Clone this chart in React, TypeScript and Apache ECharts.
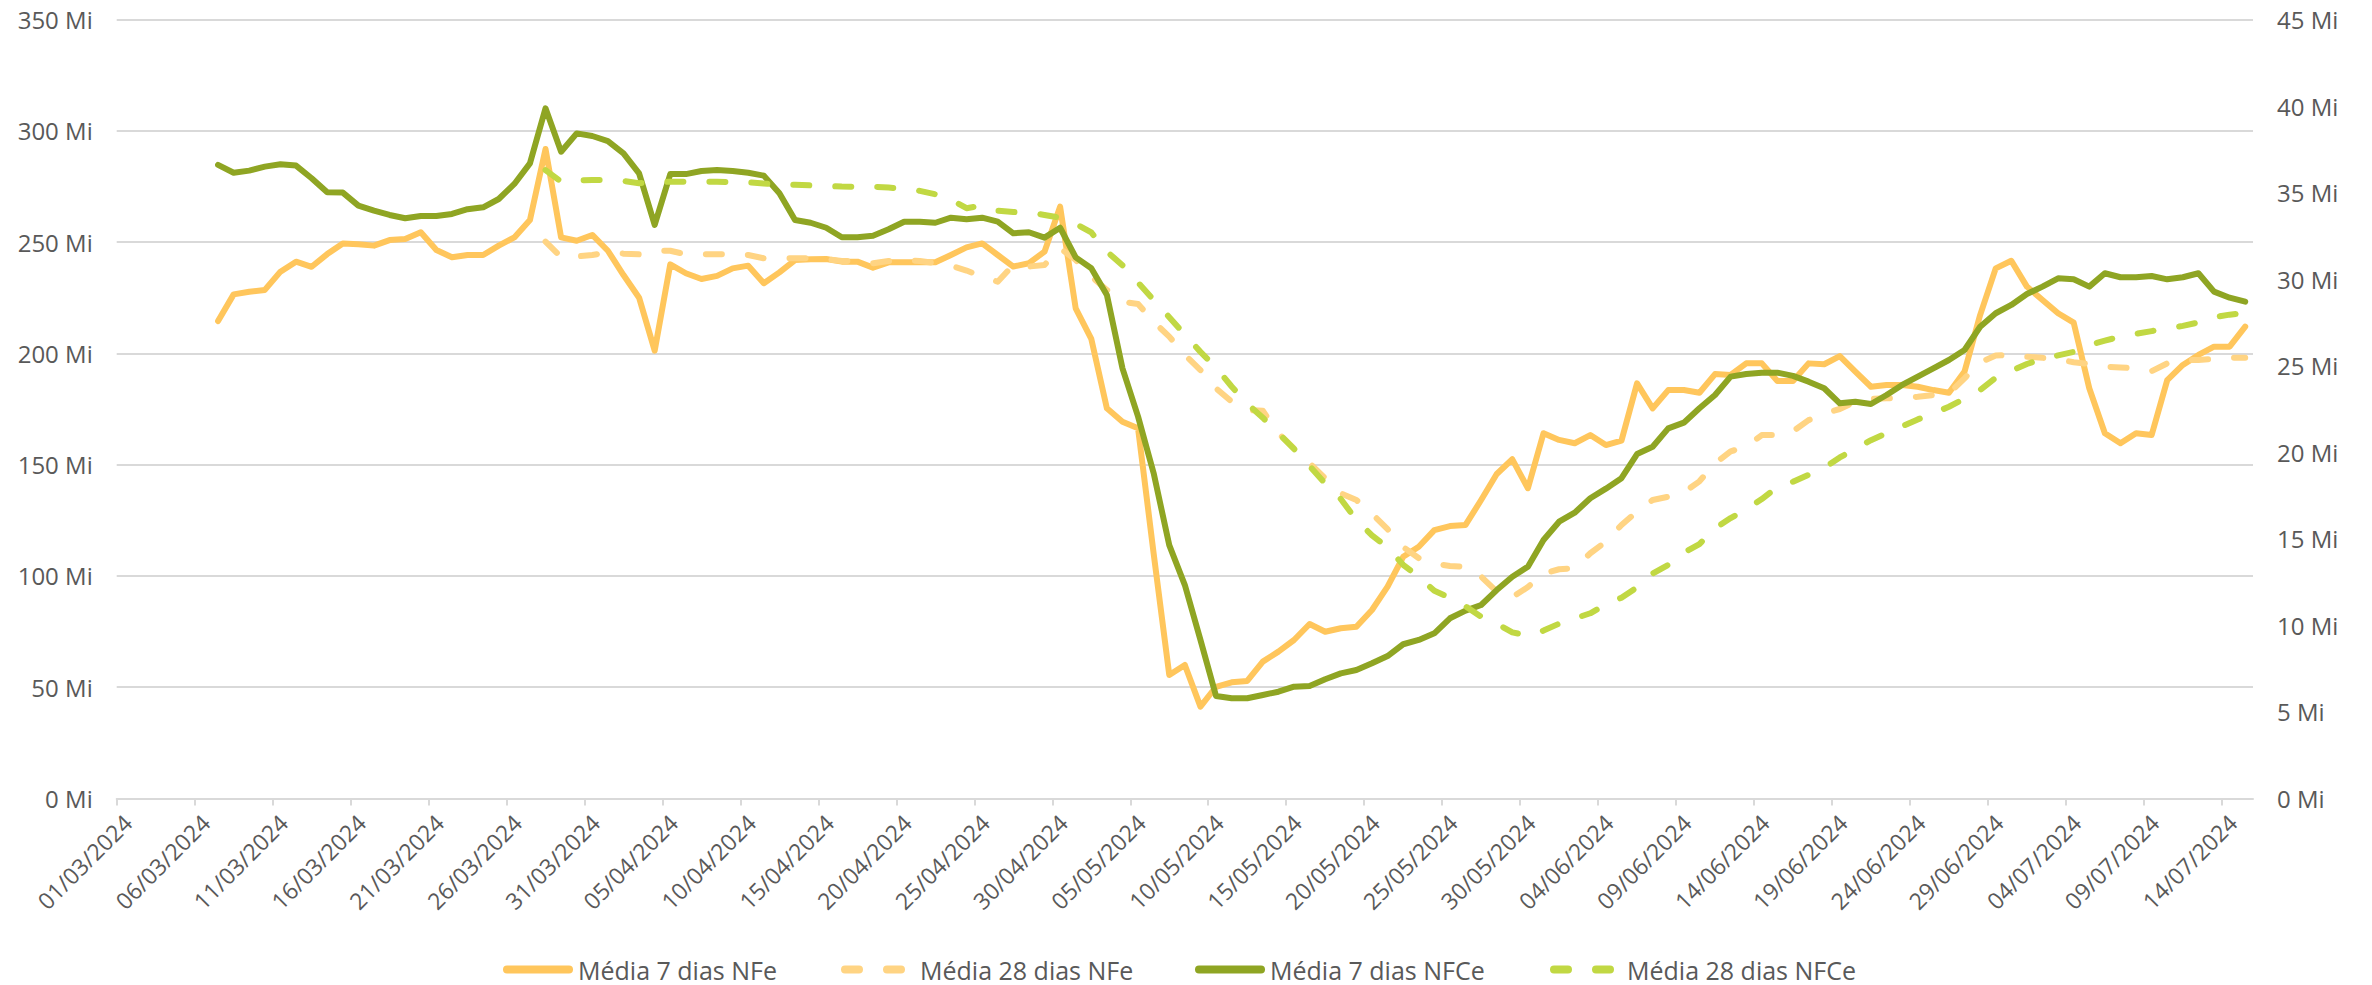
import React, { useEffect, useRef } from 'react';
import * as echarts from 'echarts';

// Tick labels (every 5 days) for the date axis: 01/03/2024 .. 15/07/2024 (137 days)
const tickLabels = [
  '01/03/2024', '06/03/2024', '11/03/2024', '16/03/2024', '21/03/2024', '26/03/2024', '31/03/2024',
  '05/04/2024', '10/04/2024', '15/04/2024', '20/04/2024', '25/04/2024', '30/04/2024', '05/05/2024',
  '10/05/2024', '15/05/2024', '20/05/2024', '25/05/2024', '30/05/2024', '04/06/2024', '09/06/2024',
  '14/06/2024', '19/06/2024', '24/06/2024', '29/06/2024', '04/07/2024', '09/07/2024', '14/07/2024',
];
const dayCount = 137;

const seriesNames = ['Média 7 dias NFe', 'Média 28 dias NFe', 'Média 7 dias NFCe', 'Média 28 dias NFCe'];

// Média 7 dias NFe (left axis, Mi) from day index 6 (07/03)
const nfe7Start = 6;
const nfe7 = [
  214.5, 226.5, 227.7, 228.5, 236.7, 241.2, 238.9, 244.6, 249.4, 249.0,
  248.4, 250.9, 251.4, 254.4, 246.4, 243.2, 244.2, 244.2, 248.4, 252.1,
  259.9, 291.8, 252.1, 250.6, 253.2, 246.1, 235.2, 225.0, 201.2, 240.0,
  236.0, 233.4, 234.8, 238.2, 239.4, 231.5, 236.4, 241.9, 242.3, 242.4,
  241.2, 241.2, 238.5, 240.9, 240.9, 240.9, 240.9, 244.2, 247.6, 249.4,
  244.2, 239.0, 240.5, 245.7, 265.9, 220.2, 206.5, 175.3, 169.3, 166.3,
  110.0, 55.5, 60.0, 41.3, 50.2, 52.2, 52.8, 61.5, 66.0, 71.2,
  78.4, 74.9, 76.5, 77.2, 84.7, 95.2, 108.6, 113.1, 120.6, 122.4,
  122.9, 134.1, 145.8, 152.4, 139.4, 164.1, 161.1, 159.6, 163.3, 158.8,
  160.8, 186.5, 175.3, 183.5, 183.5, 182.3, 190.7, 190.3, 195.5, 195.5,
  187.6, 187.6, 195.5, 195.1, 198.8, 191.8, 185.0, 185.8, 185.8, 185.0,
  183.5, 182.3, 191.8, 217.2, 238.2, 241.6, 230.0, 224.0, 218.0, 213.8,
  184.3, 164.1, 159.6, 164.1, 163.3, 188.0, 194.8, 199.3, 203.0, 203.0, 212.0,
];

// Média 28 dias NFe (left axis, Mi) from day index 27 (28/03)
const nfe28Start = 27;
const nfe28 = [
  250.2, 243.2, 243.5, 244.2, 245.4, 244.8, 244.5, 246.1, 246.1, 244.5,
  244.5, 244.5, 244.5, 244.2, 242.7, 242.7, 242.7, 242.8, 242.4, 241.5,
  241.5, 240.5, 241.5, 242.0, 241.5, 240.5, 239.4, 237.2, 234.5, 232.2,
  239.7, 239.0, 239.7, 247.2, 242.0, 234.5, 228.5, 223.2, 222.2, 214.2,
  207.5, 199.3, 192.5, 184.3, 178.3, 174.5, 174.2, 164.1, 157.3, 150.6,
  143.9, 137.1, 134.1, 128.0, 121.0, 113.0, 108.0, 105.5, 104.5, 104.1,
  99.7, 93.0, 90.5, 95.0, 101.0, 103.0, 103.5, 110.2, 115.4, 122.9,
  128.9, 134.1, 135.6, 137.5, 142.5, 150.6, 156.0, 158.0, 163.3, 163.3,
  165.0, 170.0, 173.0, 175.0, 178.3, 179.5, 179.8, 180.0, 180.5, 181.3,
  182.0, 188.8, 196.0, 199.0, 199.3, 198.5, 198.0, 197.3, 196.0, 195.2,
  194.0, 193.7, 193.3, 192.0, 195.5, 197.0, 197.0, 197.5, 198.0, 198.0,
];

// Média 7 dias NFCe (right axis, Mi) from day index 6 (07/03)
const nfce7Start = 6;
const nfce7 = [
  36.6, 36.15, 36.27, 36.5, 36.64, 36.56, 35.83, 35.02, 35.0, 34.25,
  33.96, 33.71, 33.52, 33.65, 33.65, 33.77, 34.04, 34.15, 34.63, 35.5,
  36.69, 39.87, 37.36, 38.42, 38.27, 37.98, 37.27, 36.11, 33.13, 36.07,
  36.07, 36.25, 36.3, 36.25, 36.15, 35.98, 34.96, 33.42, 33.26, 32.97,
  32.42, 32.42, 32.51, 32.88, 33.32, 33.32, 33.26, 33.55, 33.46, 33.55,
  33.32, 32.65, 32.71, 32.4, 32.97, 31.26, 30.63, 29.09, 24.85, 22.06,
  18.79, 14.64, 12.33, 9.16, 5.92, 5.79, 5.79, 5.98, 6.17, 6.46,
  6.5, 6.89, 7.23, 7.42, 7.81, 8.23, 8.91, 9.16, 9.54, 10.41,
  10.85, 11.18, 12.04, 12.81, 13.39, 14.93, 15.99, 16.51, 17.34, 17.9,
  18.5, 19.9, 20.32, 21.38, 21.71, 22.54, 23.31, 24.37, 24.52, 24.6,
  24.6, 24.41, 24.08, 23.7, 22.83, 22.92, 22.79, 23.31, 23.89, 24.37,
  24.85, 25.33, 25.91, 27.25, 28.03, 28.51, 29.14, 29.57, 30.05, 29.99,
  29.57, 30.34, 30.11, 30.11, 30.18, 29.99, 30.11, 30.34, 29.28, 28.93, 28.7,
];

// Média 28 dias NFCe (right axis, Mi) from day index 27 (28/03)
const nfce28Start = 27;
const nfce28 = [
  36.3, 35.63, 35.7, 35.73, 35.73, 35.67, 35.54, 35.6, 35.63, 35.63,
  35.63, 35.63, 35.6, 35.6, 35.52, 35.48, 35.45, 35.42, 35.38, 35.35,
  35.34, 35.34, 35.29, 35.22, 35.1, 34.9, 34.6, 34.1, 34.25, 33.95,
  33.88, 33.84, 33.71, 33.55, 33.2, 32.7, 31.6, 30.8, 29.8, 28.8,
  27.8, 26.8, 25.8, 24.9, 23.8, 22.8, 22.0, 21.1, 20.2, 19.2,
  18.2, 17.3, 16.1, 15.2, 14.5, 13.5, 12.8, 12.0, 11.6, 11.1,
  10.5, 10.1, 9.6, 9.4, 9.7, 10.1, 10.4, 10.7, 11.2, 11.6,
  12.2, 13.0, 13.5, 14.2, 14.7, 15.6, 16.2, 16.7, 17.3, 18.0,
  18.3, 18.7, 19.1, 19.7, 20.2, 20.7, 21.1, 21.5, 21.9, 22.25,
  22.63, 23.1, 23.6, 24.3, 24.7, 25.1, 25.4, 25.6, 25.8, 26.2,
  26.45, 26.68, 26.85, 27.0, 27.15, 27.3, 27.5, 27.8, 27.95, 28.06,
];

const FONT = '"Open Sans", "Noto Sans", sans-serif';
const TEXT_COLOR = '#595959';
const GRID_COLOR = '#D9D9D9';
const LABEL_SHIFT = 0.7;

const SOLID_ICON = 'path://M4,0H66A4,4,0,0,1,66,8H4A4,4,0,0,1,4,0Z';
const DASH_ICON =
  'path://M4,0H18A4,4,0,0,1,18,8H4A4,4,0,0,1,4,0ZM46,0H60A4,4,0,0,1,60,8H46A4,4,0,0,1,46,0Z';

// each day's value sits in the middle of its day slot on the date axis
const toPoints = (start: number, vals: number[]) => vals.map((v, k) => [start + k + 0.5, v]);

const tickValues = tickLabels.map((_, k) => k * 5);
const labelValues = tickLabels.map((_, k) => k * 5 + LABEL_SHIFT);

export default function App() {
  const ref = useRef<HTMLDivElement>(null);

  useEffect(() => {
    if (!ref.current) return;
    const chart = echarts.init(ref.current, undefined, { renderer: 'svg' });

    const lineSeries = (
      name: string,
      data: number[][],
      color: string,
      yAxisIndex: number,
      dashed: boolean,
      z: number,
    ) => ({
      name,
      type: 'line',
      data,
      yAxisIndex,
      symbol: 'none',
      showSymbol: false,
      smooth: false,
      z,
      itemStyle: { color },
      lineStyle: {
        color,
        width: 6,
        type: dashed ? [16, 26] : 'solid',
        cap: 'round',
        join: 'round',
      },
      emphasis: { disabled: true },
    });

    const legendDefs = [
      { left: 503, width: 70, icon: SOLID_ICON, pad: 0 },
      { left: 841, width: 64, icon: DASH_ICON, pad: 10 },
      { left: 1195, width: 70, icon: SOLID_ICON, pad: 0 },
      { left: 1550, width: 64, icon: DASH_ICON, pad: 8 },
    ];

    chart.setOption({
      animation: false,
      backgroundColor: '#ffffff',
      textStyle: { fontFamily: FONT },
      grid: {
        left: 116.7,
        right: 119,
        top: 19.5,
        bottom: 186.5,
        containLabel: false,
        outerBoundsMode: 'none',
      },
      legend: seriesNames.map((n, k) => ({
        data: [{ name: n, icon: legendDefs[k].icon }],
        left: legendDefs[k].left,
        top: 957,
        padding: 0,
        itemWidth: legendDefs[k].width,
        itemHeight: 8,
        selectedMode: false,
        itemStyle: { borderWidth: 0 },
        lineStyle: { width: 0 },
        textStyle: {
          fontSize: 25,
          color: TEXT_COLOR,
          fontFamily: FONT,
          padding: [0, 0, 0, legendDefs[k].pad],
        },
      })),
      xAxis: {
        type: 'value',
        min: 0,
        max: dayCount,
        interval: 5,
        axisLine: { show: true, onZero: false, lineStyle: { color: GRID_COLOR, width: 2 } },
        axisTick: {
          show: true,
          length: 7,
          lineStyle: { color: GRID_COLOR, width: 2 },
          customValues: tickValues,
        },
        axisLabel: {
          rotate: 45,
          margin: 20,
          color: TEXT_COLOR,
          fontSize: 23,
          fontFamily: FONT,
          customValues: labelValues,
          formatter: (v: number) => tickLabels[Math.round((v - LABEL_SHIFT) / 5)] ?? '',
        },
        splitLine: { show: false },
      },
      yAxis: [
        {
          type: 'value',
          min: 0,
          max: 350,
          interval: 50,
          position: 'left',
          axisLine: { show: false },
          axisTick: { show: false },
          axisLabel: {
            formatter: '{value} Mi',
            color: TEXT_COLOR,
            fontSize: 24,
            fontFamily: FONT,
            margin: 24,
          },
          splitLine: { show: true, lineStyle: { color: GRID_COLOR, width: 2 } },
        },
        {
          type: 'value',
          min: 0,
          max: 45,
          interval: 5,
          position: 'right',
          axisLine: { show: false },
          axisTick: { show: false },
          axisLabel: {
            formatter: '{value} Mi',
            color: TEXT_COLOR,
            fontSize: 24,
            fontFamily: FONT,
            margin: 24,
          },
          splitLine: { show: false },
        },
      ],
      series: [
        lineSeries(seriesNames[0], toPoints(nfe7Start, nfe7), '#FFC65C', 0, false, 2),
        lineSeries(seriesNames[1], toPoints(nfe28Start, nfe28), '#FFD483', 0, true, 3),
        lineSeries(seriesNames[2], toPoints(nfce7Start, nfce7), '#8FA523', 1, false, 4),
        lineSeries(seriesNames[3], toPoints(nfce28Start, nfce28), '#C1D843', 1, true, 5),
      ],
    });

    return () => chart.dispose();
  }, []);

  return (
    <div
      ref={ref}
      style={{ position: 'fixed', left: 0, top: 0, width: 2372, height: 985, background: '#fff' }}
    />
  );
}
